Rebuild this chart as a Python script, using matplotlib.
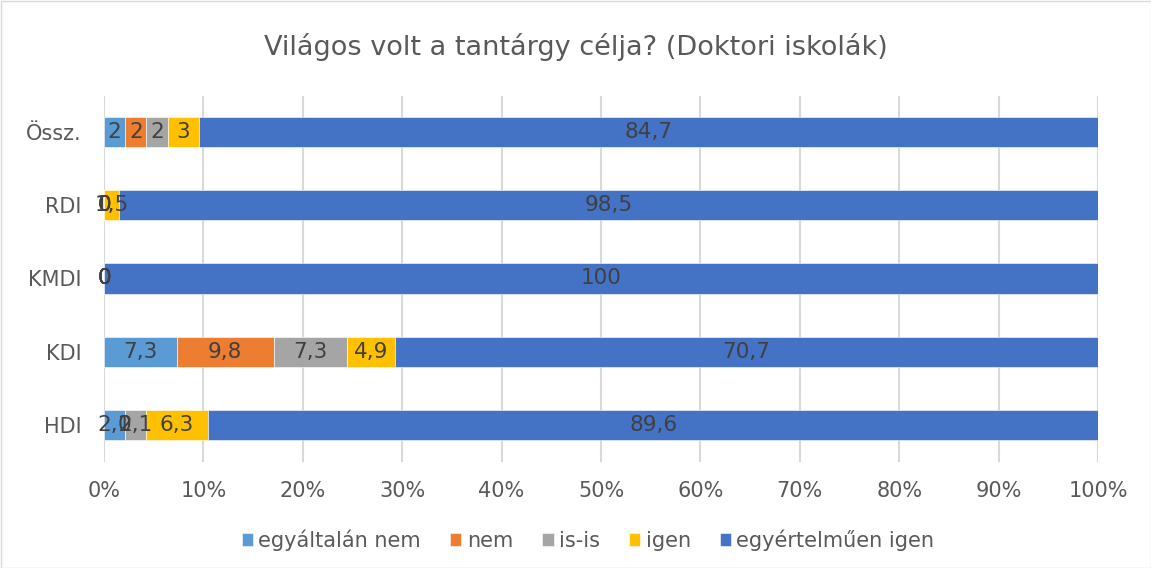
import numpy as np
import matplotlib.pyplot as plt
from matplotlib.patches import Rectangle

# adatok (alulrol felfele)
iskolak = ["HDI", "KDI", "KMDI", "RDI", "Össz."]
egyaltalan_nem = [2.1, 7.3, 0, 0, 2]
nem = [0, 9.8, 0, 0, 2]
is_is = [2.1, 7.3, 0, 0, 2]
igen = [6.3, 4.9, 0, 1.5, 3]
egyertelmuen_igen = [89.6, 70.7, 100, 98.5, 84.7]

sorozatok = ["egyáltalán nem", "nem", "is-is", "igen", "egyértelműen igen"]
szinek = ["#5B9BD5", "#ED7D31", "#A5A5A5", "#FFC000", "#4472C4"]

adatok = np.array([egyaltalan_nem, nem, is_is, igen, egyertelmuen_igen], dtype=float)
szazalek = adatok / adatok.sum(axis=0) * 100

fig = plt.figure(figsize=(11.51, 5.68), dpi=100)
ax = fig.add_axes([104 / 1151, 1 - 461.5 / 568, 994 / 1151, 366 / 568])

y = np.arange(len(iskolak))
bal = np.zeros(len(iskolak))
for i, nev in enumerate(sorozatok):
    ax.barh(y, szazalek[i], left=bal, height=0.41, color=szinek[i], label=nev,
            edgecolor="white", linewidth=0.4, zorder=2)
    for j in range(len(iskolak)):
        v = adatok[i, j]
        szoveg = f"{v:g}".replace(".", ",")
        ax.text(bal[j] + szazalek[i, j] / 2, y[j], szoveg, ha="center", va="center",
                fontsize=15.5, color="#404040", zorder=3)
    bal += szazalek[i]

ax.set_xlim(0, 100)
ax.set_ylim(-0.5, len(iskolak) - 0.5)
ax.set_xticks(np.arange(0, 101, 10))
ax.set_xticklabels([f"{t}%" for t in range(0, 101, 10)])
ax.set_yticks(y)
ax.set_yticklabels(iskolak)
ax.tick_params(axis="both", length=0, labelsize=15, labelcolor="#595959")
ax.tick_params(axis="x", pad=14)
ax.tick_params(axis="y", pad=16)
ax.grid(axis="x", color="#D9D9D9", linewidth=1.5, zorder=0)
for s in ax.spines.values():
    s.set_visible(False)

fig.suptitle("Világos volt a tantárgy célja? (Doktori iskolák)", y=1 - 47 / 568, va="center",
             fontsize=19.5, color="#595959")

ax.legend(loc="center", bbox_to_anchor=(588 / 1151, 1 - 540 / 568),
          bbox_transform=fig.transFigure, ncol=5, frameon=False, fontsize=15,
          labelcolor="#595959", handlelength=0.55, handleheight=0.55,
          handletextpad=0.25, columnspacing=1.4)

fig.patches.append(Rectangle((0.5 / 1151, 0.5 / 568), 1 - 1 / 1151, 1 - 1 / 568,
                             transform=fig.transFigure, fill=False,
                             edgecolor="#D9D9D9", linewidth=1))

fig.savefig("out.png", dpi=100)
